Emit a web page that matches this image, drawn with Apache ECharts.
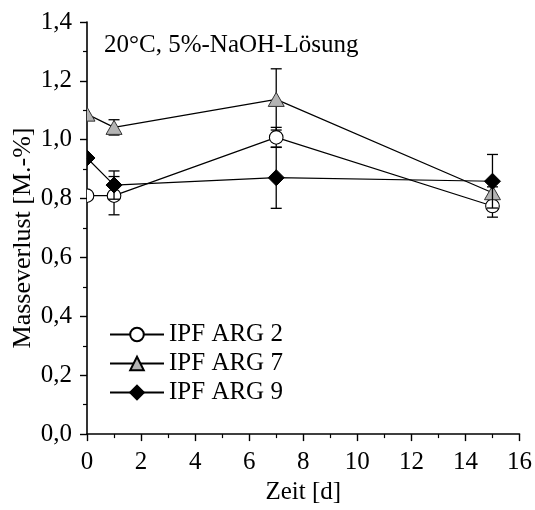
<!DOCTYPE html>
<html>
<head>
<meta charset="utf-8">
<script src="https://cdn.jsdelivr.net/npm/echarts@6/dist/echarts.min.js"></script>
<style>
  html, body { margin: 0; padding: 0; background: #fff; }
  #chart { width: 535px; height: 510px; }
</style>
</head>
<body>
<div id="chart"></div>
<script>
// Exposure time in days
const days = [0, 1, 7, 15];

// Mass loss [M.-%] and standard deviation per fibre type
const arg2 = [0.81, 0.81, 1.008, 0.775];
const arg2Err = [0, 0.065, 0.034, 0.038];
const arg7 = [1.087, 1.042, 1.137, 0.82];
const arg7Err = [0, 0.026, 0.104, 0.02];
const arg9 = [0.938, 0.846, 0.871, 0.859];
const arg9Err = [0, 0.048, 0.104, 0.091];

const seriesNames = ['IPF ARG 2', 'IPF ARG 7', 'IPF ARG 9'];
const yTicks = [0, 0.2, 0.4, 0.6, 0.8, 1.0, 1.2, 1.4];
const xTicks = [0, 2, 4, 6, 8, 10, 12, 14, 16];

const FONT = 'Liberation Serif';
const FS = 25;

function pairs(vals, errs) {
  return days.map((d, i) => errs ? [d, vals[i], errs[i]] : [d, vals[i]]);
}

// Marker shapes drawn by the error-bar series
function markerShape(kind, cx, cy) {
  if (kind === 'circle') {
    return { type: 'circle', shape: { cx: cx, cy: cy, r: 6.8 },
      style: { fill: '#fff', stroke: '#000', lineWidth: 1.1 } };
  }
  if (kind === 'triangle') {
    const h = 14, w = 16;
    return { type: 'polygon', shape: { points: [[cx, cy - h / 2], [cx + w / 2, cy + h / 2], [cx - w / 2, cy + h / 2]] },
      style: { fill: '#b4b4b4', stroke: '#333', lineWidth: 1 } };
  }
  const r = 8;
  return { type: 'polygon', shape: { points: [[cx, cy - r], [cx + r, cy], [cx, cy + r], [cx - r, cy]] },
    style: { fill: '#000', stroke: '#000', lineWidth: 1 } };
}

function errorRenderer(kind) {
  return function (params, api) {
    const x = api.value(0), y = api.value(1), e = api.value(2);
    const p = api.coord([x, y]);
    const children = [];
    if (e > 0) {
      const hi = api.coord([x, y + e]);
      const lo = api.coord([x, y - e]);
      const cap = 5.5;
      const ls = { stroke: '#000', lineWidth: 1.3 };
      children.push({ type: 'line', shape: { x1: p[0], y1: hi[1], x2: p[0], y2: lo[1] }, style: ls });
      children.push({ type: 'line', shape: { x1: p[0] - cap, y1: hi[1], x2: p[0] + cap, y2: hi[1] }, style: ls });
      children.push({ type: 'line', shape: { x1: p[0] - cap, y1: lo[1], x2: p[0] + cap, y2: lo[1] }, style: ls });
    }
    children.push(markerShape(kind, p[0], p[1]));
    return { type: 'group', children: children };
  };
}

const kinds = ['circle', 'triangle', 'diamond'];
const values = [arg2, arg7, arg9];
const errors = [arg2Err, arg7Err, arg9Err];
const legendFill = ['#fff', '#b4b4b4', '#000'];

const series = [];
seriesNames.forEach((name, k) => {
  series.push({
    name: name,
    type: 'line',
    data: pairs(values[k]),
    showSymbol: false,
    symbol: kinds[k],
    lineStyle: { color: '#000', width: 1.2 },
    itemStyle: { color: legendFill[k], borderColor: '#000', borderWidth: 1 },
    silent: true,
    z: 2
  });
});
seriesNames.forEach((name, k) => {
  series.push({
    name: name + ' (SD)',
    type: 'custom',
    data: pairs(values[k], errors[k]),
    renderItem: errorRenderer(kinds[k]),
    clip: true,
    silent: true,
    z: 3 + k
  });
});

const chart = echarts.init(document.getElementById('chart'));
chart.setOption({
  animation: false,
  backgroundColor: '#fff',
  grid: { left: 87, right: 14, top: 22, bottom: 72 },
  xAxis: {
    type: 'value',
    min: 0, max: 16, interval: 2,
    name: 'Zeit [d]',
    nameLocation: 'middle',
    nameGap: 42,
    nameTextStyle: { fontFamily: FONT, fontSize: FS, color: '#000' },
    axisLine: { show: true, lineStyle: { color: '#000', width: 1.6 } },
    axisTick: { show: true, length: 7, lineStyle: { color: '#000', width: 1.4 } },
    minorTick: { show: true, splitNumber: 2, length: 4, lineStyle: { color: '#000', width: 1.2 } },
    axisLabel: { fontFamily: FONT, fontSize: FS, color: '#000', margin: 16,
      formatter: v => xTicks.includes(v) ? String(v) : '' },
    splitLine: { show: false }
  },
  yAxis: {
    type: 'value',
    min: 0, max: 1.4, interval: 0.2,
    axisLine: { show: true, lineStyle: { color: '#000', width: 1.6 } },
    axisTick: { show: true, length: 7, lineStyle: { color: '#000', width: 1.4 } },
    minorTick: { show: true, splitNumber: 2, length: 4, lineStyle: { color: '#000', width: 1.2 } },
    axisLabel: { fontFamily: FONT, fontSize: FS, color: '#000', margin: 15,
      formatter: v => {
        const t = yTicks.find(s => Math.abs(s - v) < 1e-6);
        return t === undefined ? '' : t.toFixed(1).replace('.', ',');
      } },
    splitLine: { show: false }
  },
  legend: {
    data: seriesNames,
    orient: 'vertical',
    left: 104,
    top: 317,
    itemWidth: 54,
    itemHeight: 17,
    itemGap: 4,
    textStyle: { fontFamily: FONT, fontSize: FS, color: '#000' },
    selectedMode: false
  },
  graphic: [{
    type: 'text',
    left: 104,
    top: 33,
    style: { text: '20°C, 5%-NaOH-Lösung', font: FS + 'px "Liberation Serif"', fill: '#000' }
  }, {
    type: 'text',
    x: 23,
    y: 238,
    rotation: Math.PI / 2,
    style: { text: 'Masseverlust [M.-%]', font: '26px "Liberation Serif"', fill: '#000',
      align: 'center', verticalAlign: 'middle' }
  }],
  series: series
});
</script>
</body>
</html>
